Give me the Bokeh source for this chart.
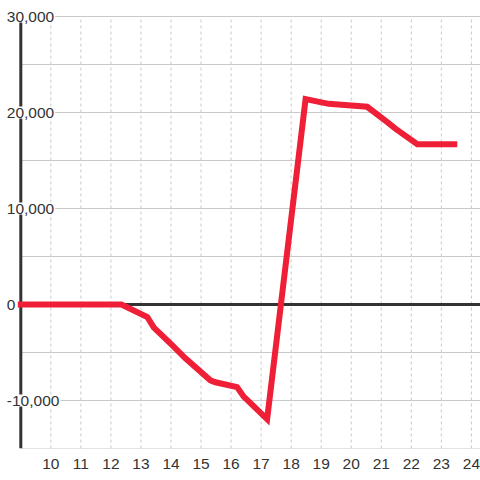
from bokeh.plotting import figure
from bokeh.models import Range1d, FixedTicker
from bokeh.core.properties import value
from bokeh.embed import file_html
from bokeh.resources import INLINE

# ---- data ----
hours = [9.0, 12.35, 13.21, 13.43, 14.03, 14.48, 15.31, 15.48, 16.2, 16.42,
         17.2, 18.48, 19.25, 20.53, 21.2, 21.48, 22.2, 23.43]
values = [0, 0, -1300, -2400, -4200, -5600, -7900, -8100, -8600, -9600,
          -11950, 21400, 20900, 20600, 19000, 18300, 16700, 16700]

x_ticks = [10, 11, 12, 13, 14, 15, 16, 17, 18, 19, 20, 21, 22, 23, 24]
y_grid = [-15000, -10000, -5000, 5000, 10000, 15000, 20000, 25000, 30000]
y_label_values = [-10000, 0, 10000, 20000, 30000]
y_labels = ["-10,000", "0", "10,000", "20,000", "30,000"]

X_START, X_END = 9.0, 24.31
Y_MIN, Y_MAX = -15000, 30000

FONT = "Liberation Sans"
TEXT_COLOR = "#333333"

p = figure(width=480, height=480, output_backend="svg", toolbar_location=None,
           x_range=Range1d(8.324, 24.303), y_range=Range1d(-15000, 31667),
           y_axis_location=None, x_axis_location="below",
           min_border_left=0, min_border_right=0, min_border_top=0,
           min_border_bottom=32, outline_line_color=None,
           background_fill_color="white", border_fill_color="white")

p.xgrid.visible = False
p.ygrid.visible = False

ax = p.xaxis[0]
ax.ticker = FixedTicker(ticks=x_ticks)
ax.axis_line_color = None
ax.major_tick_line_color = None
ax.minor_tick_line_color = None
ax.major_label_standoff = 4
ax.major_label_text_font = FONT
ax.major_label_text_font_size = "15.5px"
ax.major_label_text_color = TEXT_COLOR

# vertical dashed grid
p.segment(x0=x_ticks, y0=[Y_MIN] * len(x_ticks), x1=x_ticks, y1=[Y_MAX] * len(x_ticks),
          line_color="#c8c8c8", line_width=1, line_dash="3 3")
# horizontal grid
p.segment(x0=[X_START] * len(y_grid), y0=y_grid, x1=[X_END] * len(y_grid), y1=y_grid,
          line_color="#c8c8c8", line_width=1)
# zero line
p.segment(x0=[X_START], y0=[0], x1=[X_END], y1=[0], line_color="#333333", line_width=3)
# left axis line
p.segment(x0=[X_START], y0=[Y_MIN], x1=[X_START], y1=[Y_MAX], line_color="#333333", line_width=3)

# data line
p.line(hours, values, line_color="#ee1f36", line_width=6, line_join="miter", line_cap="square")

# y labels
p.text(x=[X_START] * len(y_labels), y=y_label_values, text=y_labels,
       x_offset=-15, text_align="left", text_baseline="middle",
       text_font=value(FONT), text_font_size="15.5px", text_color=TEXT_COLOR,
       background_fill_color="white", padding=1)

open("out.html", "w").write(file_html(p, INLINE))
